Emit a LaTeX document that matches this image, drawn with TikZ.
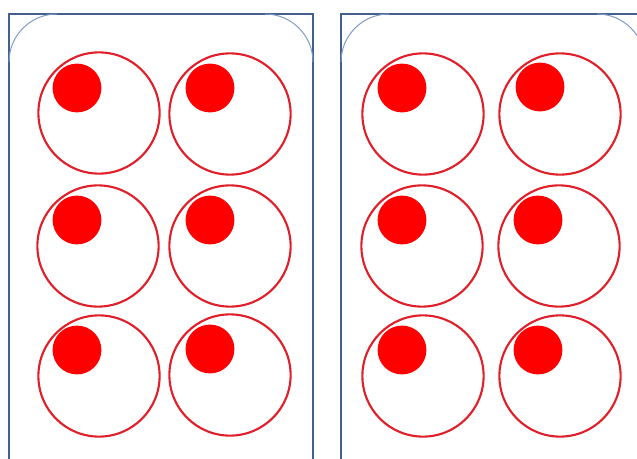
\documentclass[tikz,border=0pt]{standalone}
\usepackage{xcolor}
\usepackage{tikz}
\usetikzlibrary{positioning}
\definecolor{panelblue}{HTML}{435F8E}
\definecolor{cornerblue}{HTML}{7E9BC6}
\definecolor{ringred}{HTML}{E01F2A}
\definecolor{beadred}{HTML}{FF0000}
\tikzstyle{panel} = [draw=panelblue, line width=1.6pt]
\tikzstyle{corner} = [draw=cornerblue, line width=0.7pt]
\tikzstyle{well} = [circle, draw=ringred, line width=1.5pt, fill=white, minimum size=3.03cm, inner sep=0pt]
\tikzstyle{bead} = [circle, fill=beadred, minimum size=1.22cm, inner sep=0pt]

\begin{document}
\begin{tikzpicture}[x=0.025cm, y=-0.025cm]
    \useasboundingbox (0,0) rectangle (637,459);
    \fill[white] (0,0) rectangle (637,459);
    \clip (0,0) rectangle (637,459);

    % left card
    \draw[panel] (9,480) -- (9,14) -- (313,14) -- (313,480);
    \draw[corner] (9,62) .. controls (9,35.5) and (30.5,14) .. (57,14);
    \draw[corner] (265,14) .. controls (291.5,14) and (313,35.5) .. (313,62);

    % right card
    \draw[panel] (341,480) -- (341,14) -- (645,14) -- (645,480);
    \draw[corner] (341,62) .. controls (341,35.5) and (362.5,14) .. (389,14);
    \draw[corner] (597,14) .. controls (623.5,14) and (645,35.5) .. (645,62);

    % wells, left card
    \node[well] (la1) at (99,113) {};
    \node[well] (lb1) at (230,114) {};
    \node[well] (la2) at (98,246) {};
    \node[well] (lb2) at (230,246) {};
    \node[well] (la3) at (99,376) {};
    \node[well] (lb3) at (230,375) {};

    % wells, right card
    \node[well] (ra1) at (423,114) {};
    \node[well] (rb1) at (560,114) {};
    \node[well] (ra2) at (422,246) {};
    \node[well] (rb2) at (559,246) {};
    \node[well] (ra3) at (423,376) {};
    \node[well] (rb3) at (560,376) {};

    % beads sitting top-left in each well
    \node[bead] (la1b) at ([shift={(-22,-25)}]la1.center) {};
    \node[bead] (lb1b) at ([shift={(-20,-26)}]lb1.center) {};
    \node[bead] (la2b) at ([shift={(-21,-26)}]la2.center) {};
    \node[bead] (lb2b) at ([shift={(-20,-26)}]lb2.center) {};
    \node[bead] (la3b) at ([shift={(-22,-26)}]la3.center) {};
    \node[bead] (lb3b) at ([shift={(-20,-26)}]lb3.center) {};
    \node[bead] (ra1b) at ([shift={(-21,-26)}]ra1.center) {};
    \node[bead] (rb1b) at ([shift={(-20,-27)}]rb1.center) {};
    \node[bead] (ra2b) at ([shift={(-20,-26)}]ra2.center) {};
    \node[bead] (rb2b) at ([shift={(-21,-26)}]rb2.center) {};
    \node[bead] (ra3b) at ([shift={(-21,-26)}]ra3.center) {};
    \node[bead] (rb3b) at ([shift={(-22,-26)}]rb3.center) {};
\end{tikzpicture}
\end{document}
